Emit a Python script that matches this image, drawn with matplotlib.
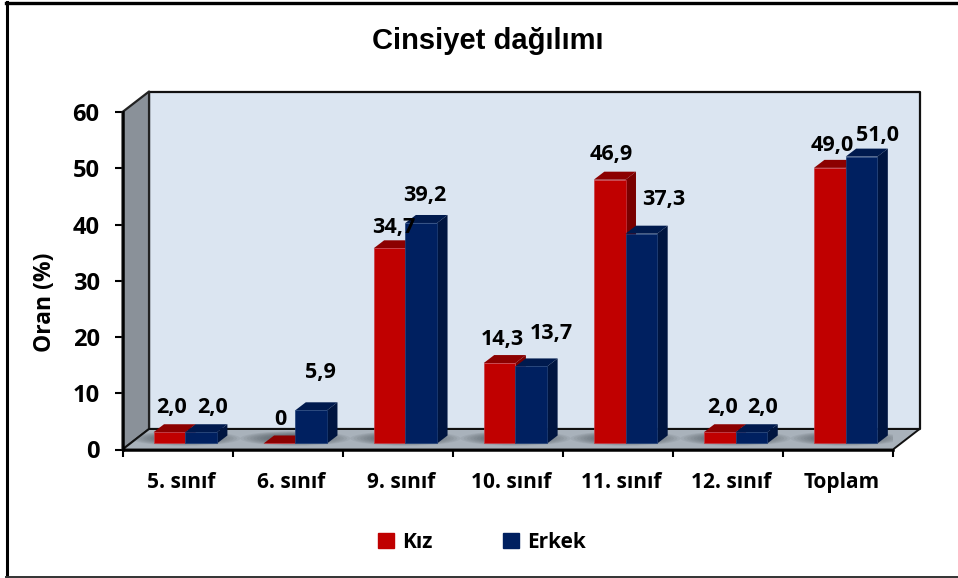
import matplotlib
matplotlib.use('Agg')
import matplotlib.pyplot as plt
from matplotlib.patches import Ellipse, Polygon, Rectangle

categories = ['5. sınıf', '6. sınıf', '9. sınıf', '10. sınıf', '11. sınıf', '12. sınıf', 'Toplam']
kiz = [2.0, 0, 34.7, 14.3, 46.9, 2.0, 49.0]
erkek = [2.0, 5.9, 39.2, 13.7, 37.3, 2.0, 51.0]
kiz_labels = ['2,0', '0', '34,7', '14,3', '46,9', '2,0', '49,0']
erkek_labels = ['2,0', '5,9', '39,2', '13,7', '37,3', '2,0', '51,0']

# label nudges in pixels (dx, dy), the original labels were hand placed
kiz_nudge = [(2, 25), (1, 24), (4, 21), (3, 24), (2, 25), (3, 25), (2, 22)]
erkek_nudge = [(11, 25), (9, 38), (4, 27), (20, 33), (22, 34), (11, 25), (16, 21)]

LABEL_FONT = 'Open Sans'
BAR_W = 0.288
WALL_DX, WALL_DY = 0.241, 3.64    # depth of the box
BAR_DX, BAR_DY = 0.095, 1.42      # depth of a bar
BAR_BASE = 1.07                   # bars stand a bit behind the front edge
BAR_LEFT = 0.282

fig = plt.figure(figsize=(9.58, 5.78), dpi=100)
ax = fig.add_axes([122.5 / 958, 1 - 449.5 / 578, 770.5 / 958, 337.5 / 578])
ax.set_xlim(0, len(categories))
ax.set_ylim(0, 60)
ax.patch.set_visible(False)


def poly(points, color, edge='none', lw=0, z=1):
    ax.add_patch(Polygon(points, closed=True, facecolor=color, edgecolor=edge,
                         linewidth=lw, zorder=z, clip_on=False, joinstyle='round'))


n = len(categories)
# back wall, side wall, floor
poly([(WALL_DX, WALL_DY), (n + WALL_DX, WALL_DY), (n + WALL_DX, 60 + WALL_DY), (WALL_DX, 60 + WALL_DY)],
     '#dbe5f1', '#111111', 1.6, z=1)
poly([(0, 0), (WALL_DX, WALL_DY), (WALL_DX, 60 + WALL_DY), (0, 60)], '#8a9199', '#222222', 1.6, z=2)
floor = Polygon([(0, 0), (n, 0), (n + WALL_DX, WALL_DY), (WALL_DX, WALL_DY)], closed=True,
                facecolor='#a9b2bb', edgecolor='#111111', linewidth=1.4, zorder=2, clip_on=False)
ax.add_patch(floor)

# soft shadows on the floor
for i in range(n):
    for k in range(10):
        sh = Ellipse((i + 0.57, BAR_BASE + 0.9), 1.0 - k * 0.06, 2.6 - k * 0.16,
                     facecolor='#3c434a', edgecolor='none', alpha=0.08, zorder=3)
        ax.add_patch(sh)
        sh.set_clip_path(floor)

x_kiz = [i + BAR_LEFT for i in range(n)]
x_erkek = [i + BAR_LEFT + BAR_W for i in range(n)]


def draw_series(xs, vals, front, top, side, edge, z):
    ax.bar(xs, vals, BAR_W, bottom=BAR_BASE, align='edge', color=front, edgecolor=edge, linewidth=0.5,
           zorder=z + 1, clip_on=False)
    for x, v in zip(xs, vals):
        y = BAR_BASE + v
        poly([(x, y), (x + BAR_W, y), (x + BAR_W + BAR_DX, y + BAR_DY), (x + BAR_DX, y + BAR_DY)], top, z=z)
        poly([(x + BAR_W, BAR_BASE), (x + BAR_W + BAR_DX, BAR_BASE + BAR_DY),
              (x + BAR_W + BAR_DX, y + BAR_DY), (x + BAR_W, y)], side, z=z)


draw_series(x_kiz, kiz, '#c00000', '#8c0000', '#7a0000', '#c93a44', 4)
draw_series(x_erkek, erkek, '#002060', '#001a4e', '#001540', '#1f3f78', 6)

# data labels
for xs, vals, labels, nudges in [(x_kiz, kiz, kiz_labels, kiz_nudge),
                                 (x_erkek, erkek, erkek_labels, erkek_nudge)]:
    for x, v, lab, nudge in zip(xs, vals, labels, nudges):
        ax.annotate(lab, (x + BAR_W / 2, BAR_BASE + v), xytext=nudge, textcoords='offset pixels',
                    ha='center', va='center', fontsize=15.5, fontweight='bold', family=LABEL_FONT,
                    color='black', zorder=10, annotation_clip=False)

# axes
for s in ['top', 'right']:
    ax.spines[s].set_visible(False)
for s in ['left', 'bottom']:
    ax.spines[s].set_linewidth(1.8)
    ax.spines[s].set_color('black')
    ax.spines[s].set_zorder(9)
ax.set_yticks(range(0, 61, 10))
ax.set_xticks(range(n + 1))
ax.set_xticklabels([])
ax.set_xticks([i + 0.53 for i in range(n)], minor=True)
ax.set_xticklabels(categories, minor=True, fontsize=15, fontweight='bold', family=LABEL_FONT)
ax.tick_params(axis='x', which='minor', length=0, pad=16)
ax.tick_params(axis='x', which='major', length=5, width=1.5, direction='out')
ax.tick_params(axis='y', length=5.5, width=1.5, direction='out', pad=11)
for t in ax.get_yticklabels():
    t.set_fontsize(17)
    t.set_fontweight('bold')
    t.set_family(LABEL_FONT)

fig.text(45 / 958, 1 - 302 / 578, 'Oran (%)', rotation=90, ha='center', va='center',
         fontsize=16.5, fontweight='bold', family=LABEL_FONT)
fig.text(488 / 958, 1 - 41 / 578, 'Cinsiyet dağılımı', ha='center', va='center',
         fontsize=21, fontweight='bold', family='Liberation Sans')

handles = [Rectangle((0, 0), 1, 1, color='#c00000'), Rectangle((0, 0), 1, 1, color='#002060')]
fig.legend(handles, ['Kız', 'Erkek'], loc='center', bbox_to_anchor=(482 / 958, 1 - 542 / 578), ncol=2,
           frameon=False, handlelength=0.75, handleheight=0.75, handletextpad=0.4, columnspacing=3.4,
           prop={'family': LABEL_FONT, 'weight': 'bold', 'size': 15})

# outer frame, no line on the right side
fig.add_artist(plt.Line2D([7 / 958, 7 / 958], [0, 1 - 2 / 578], color='black', lw=2.2))
fig.add_artist(plt.Line2D([6 / 958, 1], [1 - 2.5 / 578, 1 - 2.5 / 578], color='black', lw=2.4))
fig.add_artist(plt.Line2D([6 / 958, 1], [1 - 577 / 578, 1 - 577 / 578], color='#333333', lw=1.4))

plt.savefig('out.png', dpi=100)
